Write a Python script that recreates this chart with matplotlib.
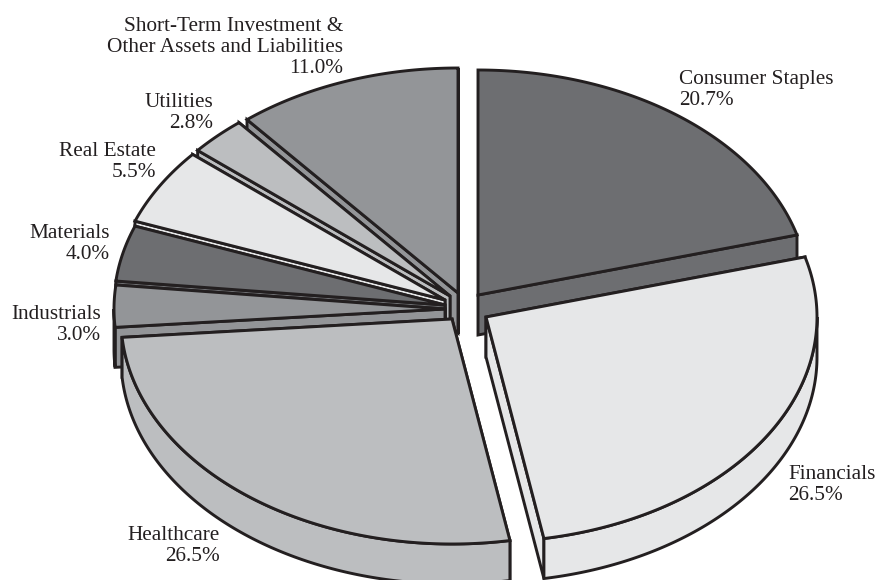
import numpy as np
import matplotlib
matplotlib.use("Agg")
import matplotlib.pyplot as plt
from matplotlib.patches import Polygon

plt.rcParams["font.family"] = ["Liberation Serif", "DejaVu Serif"]

categories = ["Short-Term Investment &\nOther Assets and Liabilities", "Consumer Staples", "Financials",
              "Healthcare", "Industrials", "Materials", "Real Estate", "Utilities"]
values = [11.0, 20.7, 26.5, 26.5, 3.0, 4.0, 5.5, 2.8]

DARK = "#6d6e71"
MID = "#939598"
SOFT = "#bcbec0"
PALE = "#e6e7e8"
INK = "#231f20"
colors = [MID, DARK, PALE, SOFT, MID, DARK, PALE, SOFT]

# pixel position of each slice's point, this is where the explode shows up
apex_x = [458, 478, 486, 452, 445, 445, 445, 450]
apex_y = [293, 295, 317, 319, 309, 305, 300, 296]
# label anchors sit on the baseline of the percent line
label_x = [343, 679, 788, 220, 101, 110, 156, 213]
label_y = [73, 105, 500, 561, 340, 259, 177, 128]
label_ha = ["right", "left", "left", "right", "right", "right", "right", "right"]

RX, RY = 331, 225
DEPTH = 40

fig = plt.figure(figsize=(8.77, 5.8), dpi=100)
ax = fig.add_axes([0, 0, 1, 1])
ax.set_xlim(0, 877)
ax.set_ylim(580, 0)
ax.axis("off")


def rim(cx, cy, a, b):
    t = np.radians(np.linspace(a, b, 120))
    return np.column_stack([cx + RX * np.sin(t), cy - RY * np.cos(t)])


def add_face(pts, color, z):
    ax.add_patch(Polygon(pts, closed=True, facecolor=color, edgecolor=INK, linewidth=2.1,
                         joinstyle="miter", zorder=z))


# angles run clockwise from 12 o'clock, first slice ends at the top
ends = np.cumsum(values[1:]) * 3.6
starts = np.concatenate([[0], ends[:-1]])
spans = [(360 - values[0] * 3.6, 360)] + list(zip(starts, ends))

# painter's order, back slices first, the two big front ones last
order = [0, 7, 6, 5, 4, 1, 3, 2]
for n, i in enumerate(order):
    a, b = spans[i]
    cx, cy = apex_x[i], apex_y[i]
    apex = np.array([[cx, cy]])
    down = np.array([0, DEPTH])
    z = n * 2 + 1
    # on the left half the start wall is the one facing us, so it goes on last
    cuts = (b, a) if a >= 180 else (a, b)
    for ang in cuts:
        edge = rim(cx, cy, ang, ang)[:1]
        add_face(np.vstack([apex, edge, edge + down, apex + down]), colors[i], z)
    lo, hi = max(a, 90), min(b, 270)
    if lo < hi:
        arc = rim(cx, cy, lo, hi)
        add_face(np.vstack([arc, arc[::-1] + down]), colors[i], z)
    add_face(np.vstack([apex, rim(cx, cy, a, b)]), colors[i], z + 1)

for i, name in enumerate(categories):
    ax.text(label_x[i], label_y[i], f"{name}\n{values[i]:.1f}%", ha=label_ha[i], va="baseline",
            multialignment=label_ha[i], fontsize=15.3, color=INK, linespacing=1.13, zorder=40)

fig.savefig("out.png", dpi=100)
